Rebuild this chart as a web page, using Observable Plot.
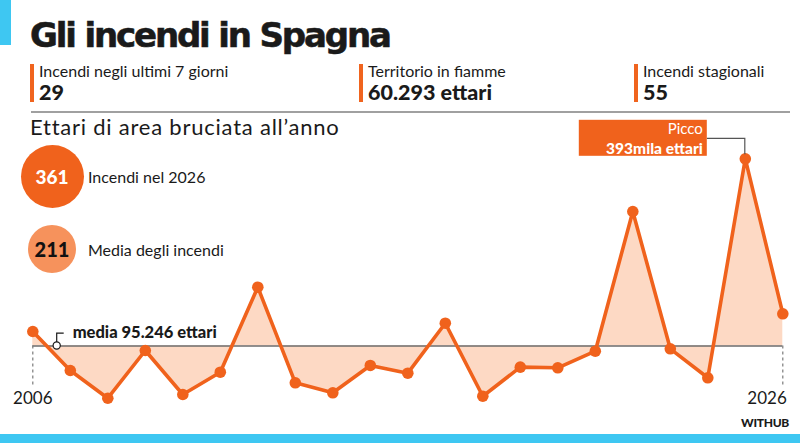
<!DOCTYPE html>
<html lang="it">
<head>
<meta charset="utf-8">
<title>Gli incendi in Spagna</title>
<script src="https://cdn.jsdelivr.net/npm/d3@7"></script>
<script src="https://cdn.jsdelivr.net/npm/@observablehq/plot@0.6"></script>
<style>
  html, body { margin: 0; padding: 0; background: #fff; }
  #page { position: relative; width: 800px; height: 443px; overflow: hidden; font-family: Lato, "Open Sans", sans-serif; color: #1a1a1a; }
  #page > svg { position: absolute; left: 0; top: 0; }
  .abs { position: absolute; line-height: 1; white-space: nowrap; }
  .bar-blue { position: absolute; background: #3ec7f2; }
  .title { left: 30px; top: 18px; font-family: "DejaVu Sans", sans-serif; font-size: 34px; font-weight: 700; -webkit-text-stroke: 0.6px #1a1a1a; }
  .stat-mark { position: absolute; width: 4px; height: 38px; top: 64px; background: #f0641e; }
  .stat-label { font-size: 16px; top: 62.5px; }
  .stat-value { font-size: 21.5px; font-weight: 900; top: 81.5px; }
  .rule { position: absolute; left: 31px; top: 111px; width: 759px; height: 2px; background: #a0a0a0; }
  .subtitle { left: 30px; top: 115.5px; font-size: 22px; }
  .bubble { position: absolute; border-radius: 50%; display: flex; align-items: center; justify-content: center; font-weight: 900; line-height: 1; }
  .legend-label { font-size: 16px; left: 88px; }
  .credit { right: 11px; top: 417px; font-size: 12px; font-weight: 900; letter-spacing: -0.3px; }
</style>
</head>
<body>
<div id="page"></div>
<script>
// Burnt area per year in Spain (hectares)
const years = [2006, 2007, 2008, 2009, 2010, 2011, 2012, 2013, 2014, 2015, 2016,
               2017, 2018, 2019, 2020, 2021, 2022, 2023, 2024, 2025, 2026];
const hectares = [118300, 56300, 12200, 88100, 18100, 53600, 188800, 36700, 20800, 64300, 52000,
                  131500, 15400, 61600, 60600, 87000, 309200, 90800, 44700, 393000, 146500];
const meanHectares = 95246;
const axisYears = [2006, 2026];

// Headline figures
const statLabels = ["Incendi negli ultimi 7 giorni", "Territorio in fiamme", "Incendi stagionali"];
const statValues = ["29", "60.293 ettari", "55"];

// Bubble legend
const bubbleValues = [361, 211];
const bubbleLabels = ["Incendi nel 2026", "Media degli incendi"];

const orange = "#f0621c";
const orangeLight = "#f6925c";
const areaFill = "#fdd9c4";
const ink = "#1a1a1a";

const itNumber = d3.formatLocale({decimal: ",", thousands: ".", grouping: [3], currency: ["", " €"]}).format(",d");

const data = years.map((year, i) => ({year, value: hectares[i]}));
const peak = d3.greatest(data, d => d.value);

const page = document.getElementById("page");

// Annotation for the yearly peak: orange box with a leader line to the point
function peakNote(index, scales) {
  const px = scales.x(peak.year), py = scales.y(peak.value);
  const g = d3.create("svg:g")
    .attr("font-family", "Lato, sans-serif").attr("text-anchor", "end");
  g.append("path")
    .attr("d", `M${px - 38},${py - 20}H${px}V${py - 4}`)
    .attr("fill", "none").attr("stroke", "#555").attr("stroke-width", 1.2);
  g.append("rect")
    .attr("x", px - 166).attr("y", py - 38.5).attr("width", 128).attr("height", 36)
    .attr("fill", orange);
  g.append("text").attr("x", px - 42).attr("y", py - 24).attr("fill", "#fff")
    .attr("font-size", 15)
    .text("Picco");
  g.append("text").attr("x", px - 42).attr("y", py - 4.5).attr("fill", "#fff")
    .attr("font-weight", 900).attr("font-size", 15.5)
    .text(`${Math.round(peak.value / 1000)}mila ettari`);
  return g.node();
}

// Annotation for the average line
function meanNote(index, scales) {
  const cx = scales.x(years[0]) + 24.4, cy = scales.y(meanHectares);
  const g = d3.create("svg:g");
  g.append("path")
    .attr("d", `M${cx},${cy - 3.6}V${cy - 12.3}H${cx + 7}`)
    .attr("fill", "none").attr("stroke", ink).attr("stroke-width", 1.2);
  g.append("circle").attr("cx", cx).attr("cy", cy).attr("r", 3.6)
    .attr("fill", "#fff").attr("stroke", ink).attr("stroke-width", 1.2);
  g.append("text").attr("x", cx + 16).attr("y", cy - 7.5)
    .attr("text-anchor", "start")
    .attr("font-family", "Lato, sans-serif").attr("font-size", 16.5).attr("font-weight", 900)
    .attr("fill", ink)
    .text(`media ${itNumber(meanHectares)} ettari`);
  return g.node();
}

const chart = Plot.plot({
  width: 800,
  height: 443,
  style: {background: "transparent", fontFamily: "Lato, sans-serif", overflow: "visible"},
  x: {domain: [2006, 2026], range: [32.3, 782.3], axis: null},
  y: {domain: [0, 400000], range: [405.4, 153.9], axis: null},
  marks: [
    Plot.area(data, {x1: "year", y1: meanHectares, y2: "value", fill: areaFill}),
    Plot.ruleY([meanHectares], {x1: axisYears[0], x2: axisYears[1], stroke: "#6b6b6b", strokeWidth: 1.3}),
    Plot.ruleX(axisYears, {x: d => d, y1: meanHectares, y2: 0, insetBottom: 18,
      stroke: "#7a7a7a", strokeWidth: 1.2, strokeDasharray: "3,3"}),
    Plot.line(data, {x: "year", y: "value", stroke: orange, strokeWidth: 3.6, strokeLinejoin: "round"}),
    Plot.dot(data, {x: "year", y: "value", r: 5.8, fill: orange}),
    Plot.text([axisYears[0]], {x: d => d, y: 0, text: d => String(d), dy: -7, fontSize: 17, fill: ink, textAnchor: "middle"}),
    Plot.text([axisYears[1]], {x: d => d, y: 0, text: d => String(d), dy: -7, dx: 4, fontSize: 17, fill: ink, textAnchor: "end"}),
    meanNote,
    peakNote
  ]
});
page.appendChild(chart);

// Header, headline figures and legend
function add(html) { page.insertAdjacentHTML("beforeend", html); return page.lastElementChild; }
// Spread a line of text so that it spans the given width
function fitWidth(el, target) {
  const n = el.textContent.length;
  const w = el.getBoundingClientRect().width;
  el.style.letterSpacing = `${(target - w) / (n - 1)}px`;
}

add(`<div class="bar-blue" style="left:0;top:0;width:11px;height:45px"></div>`);
add(`<div class="bar-blue" style="left:0;top:434px;width:800px;height:9px"></div>`);
fitWidth(add(`<div class="abs title">Gli incendi in Spagna</div>`), 362);

const statX = [30, 359, 634];
statLabels.forEach((label, i) => {
  add(`<div class="stat-mark" style="left:${statX[i]}px"></div>`);
  add(`<div class="abs stat-label" style="left:${statX[i] + 9}px">${label}</div>`);
  add(`<div class="abs stat-value" style="left:${statX[i] + 9}px">${statValues[i]}</div>`);
});

add(`<div class="rule"></div>`);
fitWidth(add(`<div class="abs subtitle">Ettari di area bruciata all’anno</div>`), 308);

const bubbleR = [31.5, 24];
const bubbleCy = [176.7, 249];
const bubbleFill = [orange, orangeLight];
const bubbleText = ["#fff", "#111"];
const bubbleFont = [19, 20];
bubbleValues.forEach((v, i) => {
  const r = bubbleR[i];
  add(`<div class="bubble" style="left:${52 - r}px;top:${bubbleCy[i] - r}px;width:${2 * r}px;height:${2 * r}px;background:${bubbleFill[i]};color:${bubbleText[i]};font-size:${bubbleFont[i]}px">${v}</div>`);
  add(`<div class="abs legend-label" style="top:${bubbleCy[i] - 7.5}px">${bubbleLabels[i]}</div>`);
});

add(`<div class="abs credit">WITHUB</div>`);
</script>
</body>
</html>
